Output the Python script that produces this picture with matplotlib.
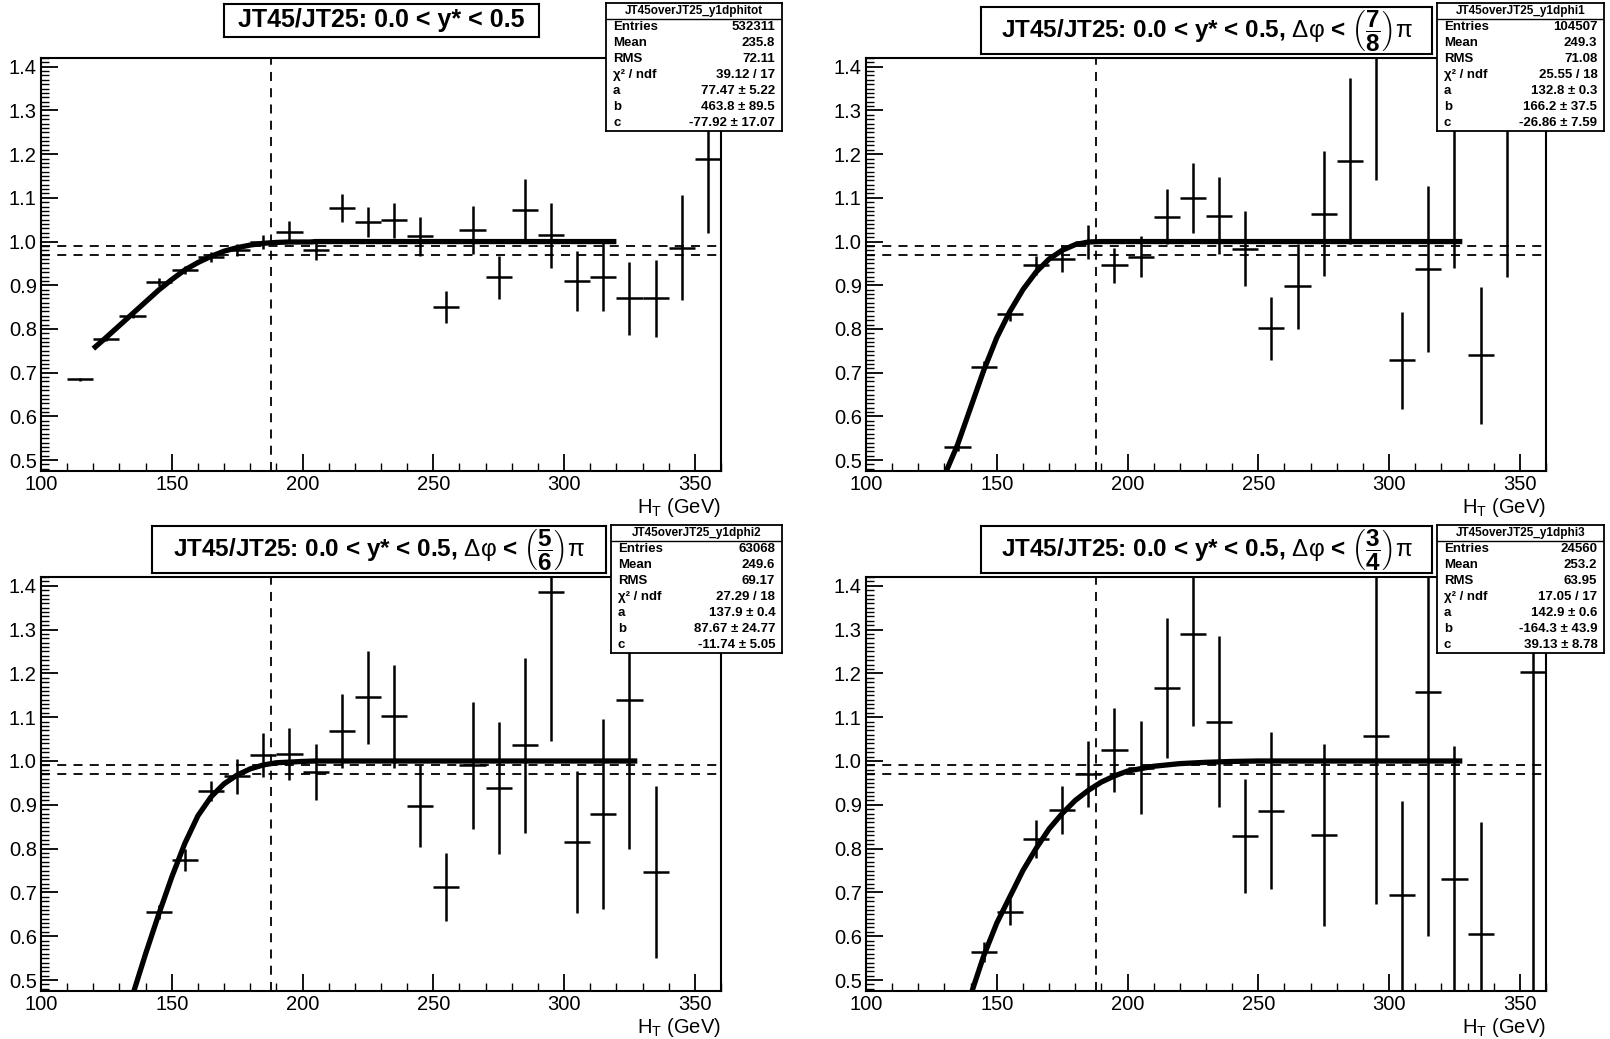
import numpy as np
import matplotlib.pyplot as plt
from matplotlib.ticker import MultipleLocator

plt.rcParams['font.family'] = ['Liberation Sans', 'DejaVu Sans']
plt.rcParams['mathtext.fontset'] = 'custom'
plt.rcParams['mathtext.rm'] = 'Liberation Sans'
plt.rcParams['mathtext.it'] = 'Liberation Sans:italic'
plt.rcParams['mathtext.bf'] = 'Liberation Sans:bold'

# --- data (bin centres in GeV, ratio, error) ---
# panel 1: all delta-phi
ht_tot = [115, 125, 135, 145, 155, 165, 175, 185, 195, 205, 215, 225, 235,
          245, 255, 265, 275, 285, 295, 305, 315, 325, 335, 345, 355]
r_tot = [0.685, 0.778, 0.830, 0.908, 0.935, 0.965, 0.980, 0.998, 1.022, 0.980,
         1.076, 1.045, 1.049, 1.012, 0.851, 1.026, 0.918, 1.072, 1.014, 0.910,
         0.920, 0.870, 0.870, 0.986, 1.190]
e_tot = [0.003, 0.005, 0.006, 0.009, 0.010, 0.012, 0.014, 0.016, 0.024, 0.022,
         0.032, 0.035, 0.040, 0.044, 0.037, 0.055, 0.050, 0.072, 0.074, 0.068,
         0.078, 0.084, 0.088, 0.120, 0.170]
fitx_tot = [120, 125, 130, 135, 140, 145, 150, 155, 160, 165, 170, 175, 180,
            185, 190, 195, 200, 203, 205, 320]
fity_tot = [0.755, 0.781, 0.808, 0.835, 0.862, 0.889, 0.913, 0.935, 0.952,
            0.966, 0.978, 0.986, 0.992, 0.996, 0.998, 0.999, 0.999, 0.999,
            1.0, 1.0]

# panel 2: dphi < 7/8 pi
ht_1 = [135, 145, 155, 165, 175, 185, 195, 205, 215, 225, 235, 245, 255,
        265, 275, 285, 295, 305, 315, 325, 335, 345]
r_1 = [0.530, 0.714, 0.835, 0.946, 0.961, 0.999, 0.946, 0.965, 1.057, 1.100,
       1.059, 0.984, 0.802, 0.898, 1.064, 1.184, 1.460, 0.728, 0.938, 1.280,
       0.740, 1.300]
e_1 = [0.010, 0.013, 0.016, 0.022, 0.030, 0.040, 0.040, 0.047, 0.063, 0.080,
       0.088, 0.086, 0.072, 0.097, 0.143, 0.190, 0.320, 0.110, 0.190, 0.340,
       0.157, 0.380]
fitx_1 = [130, 135, 140, 145, 150, 155, 160, 165, 170, 175, 180, 185, 190, 328]
fity_1 = [0.465, 0.535, 0.620, 0.705, 0.780, 0.840, 0.890, 0.930, 0.960,
          0.980, 0.993, 0.999, 1.0, 1.0]

# panel 3: dphi < 5/6 pi
ht_2 = [145, 155, 165, 175, 185, 195, 205, 215, 225, 235, 245, 255, 265,
        275, 285, 295, 305, 315, 325, 335]
r_2 = [0.655, 0.773, 0.932, 0.965, 1.013, 1.016, 0.975, 1.069, 1.145, 1.102,
       0.897, 0.712, 0.990, 0.938, 1.036, 1.385, 0.815, 0.880, 1.140, 0.747]
e_2 = [0.016, 0.025, 0.023, 0.040, 0.050, 0.060, 0.063, 0.085, 0.107, 0.118,
       0.093, 0.078, 0.145, 0.150, 0.200, 0.340, 0.163, 0.217, 0.342, 0.196]
fitx_2 = [135, 140, 145, 150, 155, 160, 165, 170, 175, 180, 185, 190, 200,
          205, 328]
fity_2 = [0.465, 0.560, 0.650, 0.735, 0.812, 0.875, 0.918, 0.948, 0.968,
          0.982, 0.991, 0.996, 0.999, 1.0, 1.0]

# panel 4: dphi < 3/4 pi
ht_3 = [145, 155, 165, 175, 185, 195, 205, 215, 225, 235, 245, 255, 275,
        295, 305, 315, 325, 335, 355]
r_3 = [0.564, 0.655, 0.822, 0.888, 0.970, 1.025, 0.985, 1.166, 1.290, 1.090,
       0.828, 0.887, 0.831, 1.056, 0.693, 1.157, 0.731, 0.606, 1.203]
e_3 = [0.023, 0.030, 0.043, 0.055, 0.076, 0.095, 0.106, 0.160, 0.210, 0.196,
       0.130, 0.180, 0.208, 0.383, 0.215, 0.557, 0.304, 0.255, 0.750]
fitx_3 = [140, 145, 150, 155, 160, 165, 170, 175, 180, 185, 190, 195, 200,
          210, 220, 230, 240, 250, 328]
fity_3 = [0.465, 0.555, 0.630, 0.690, 0.750, 0.800, 0.845, 0.880, 0.910,
          0.933, 0.952, 0.966, 0.977, 0.988, 0.994, 0.997, 0.999, 1.0, 1.0]

titles = ["JT45/JT25: 0.0 < y* < 0.5",
          r"JT45/JT25: 0.0 < y* < 0.5, $\mathrm{\Delta\varphi}$ < $\left(\dfrac{\mathbf{7}}{\mathbf{8}}\right)\mathrm{\pi}$",
          r"JT45/JT25: 0.0 < y* < 0.5, $\mathrm{\Delta\varphi}$ < $\left(\dfrac{\mathbf{5}}{\mathbf{6}}\right)\mathrm{\pi}$",
          r"JT45/JT25: 0.0 < y* < 0.5, $\mathrm{\Delta\varphi}$ < $\left(\dfrac{\mathbf{3}}{\mathbf{4}}\right)\mathrm{\pi}$"]
hist_names = ["JT45overJT25_y1dphitot", "JT45overJT25_y1dphi1",
              "JT45overJT25_y1dphi2", "JT45overJT25_y1dphi3"]
stat_labels = ["Entries", "Mean", "RMS", "χ² / ndf", "a", "b", "c"]
stat_values = [
    ["532311", "235.8", "72.11", "39.12 / 17", "77.47 ± 5.22", "463.8 ± 89.5", "-77.92 ± 17.07"],
    ["104507", "249.3", "71.08", "25.55 / 18", "132.8 ± 0.3", "166.2 ± 37.5", "-26.86 ± 7.59"],
    ["63068", "249.6", "69.17", "27.29 / 18", "137.9 ± 0.4", "87.67 ± 24.77", "-11.74 ± 5.05"],
    ["24560", "253.2", "63.95", "17.05 / 17", "142.9 ± 0.6", "-164.3 ± 43.9", "39.13 ± 8.78"],
]

panels = [(ht_tot, r_tot, e_tot, fitx_tot, fity_tot),
          (ht_1, r_1, e_1, fitx_1, fity_1),
          (ht_2, r_2, e_2, fitx_2, fity_2),
          (ht_3, r_3, e_3, fitx_3, fity_3)]

W, H = 1610, 1039
fig = plt.figure(figsize=(W / 100, H / 100), dpi=100)


def frac(x0, y0, x1, y1):
    # pixel box (top-left origin) -> figure fraction rect
    return [x0 / W, 1 - y1 / H, (x1 - x0) / W, (y1 - y0) / H]


axes_px = [(41, 58, 721, 471), (866, 58, 1546, 471),
           (41, 577, 721, 991), (866, 577, 1546, 991)]
title_px = [(224, 4, 539, 37), (981, 7, 1432, 54),
            (152, 526, 606, 573), (981, 526, 1432, 573)]
stat_px = [(606, 3, 782, 131), (1437, 3, 1604, 131),
           (611, 525, 782, 653), (1437, 525, 1604, 653)]

for i, (x, r, e, fx, fy) in enumerate(panels):
    ax = fig.add_axes(frac(*axes_px[i]))
    ax.errorbar(x, r, xerr=5, yerr=e, fmt='none', ecolor='black',
                elinewidth=1.8, capsize=0)
    ax.plot(fx, fy, color='black', lw=3.8, solid_capstyle='butt')
    ax.axvline(188, color='black', lw=1.3, ls=(0, (5, 4)))
    ax.axhline(0.99, color='black', lw=1.3, ls=(0, (5, 4)))
    ax.axhline(0.97, color='black', lw=1.3, ls=(0, (5, 4)))
    ax.set_xlim(100, 360)
    ax.set_ylim(0.475, 1.42)
    ax.xaxis.set_major_locator(MultipleLocator(50))
    ax.xaxis.set_minor_locator(MultipleLocator(10))
    ax.yaxis.set_major_locator(MultipleLocator(0.1))
    ax.yaxis.set_minor_locator(MultipleLocator(0.01))
    ax.tick_params(which='major', direction='in', length=12, width=1.3,
                   labelsize=14.5, pad=3, top=False, right=False)
    ax.tick_params(which='minor', direction='in', length=6, width=1.0,
                   top=False, right=False)
    for s in ax.spines.values():
        s.set_linewidth(1.5)
    ax.set_xlabel(r"H$_\mathrm{T}$ (GeV)", loc='right', fontsize=14.5,
                  labelpad=1)

    # title box
    tax = fig.add_axes(frac(*title_px[i]))
    tax.set_xticks([])
    tax.set_yticks([])
    for s in tax.spines.values():
        s.set_linewidth(1.5)
    if i == 0:
        tax.text(0.5, 0.5, titles[i], ha='center', va='center', fontsize=18,
                 fontweight='bold', transform=tax.transAxes)
    else:
        tax.text(0.5, 0.33, titles[i], ha='center', va='baseline',
                 fontsize=17.5, fontweight='bold', transform=tax.transAxes)

    # stat box
    sax = fig.add_axes(frac(*stat_px[i]))
    sax.set_xticks([])
    sax.set_yticks([])
    sax.set_xlim(0, 1)
    sax.set_ylim(0, 8)
    for s in sax.spines.values():
        s.set_linewidth(1.3)
    sax.axhline(7, color='black', lw=1.0)
    sax.text(0.5, 7.5, hist_names[i], ha='center', va='center',
             fontsize=8.5, fontweight='bold')
    for k, (lab, val) in enumerate(zip(stat_labels, stat_values[i])):
        yy = 6.5 - k
        sax.text(0.04, yy, lab, ha='left', va='center', fontsize=9.5,
                 fontweight='bold')
        sax.text(0.96, yy, val, ha='right', va='center', fontsize=9.5,
                 fontweight='bold')

fig.savefig("out.png", dpi=100)
